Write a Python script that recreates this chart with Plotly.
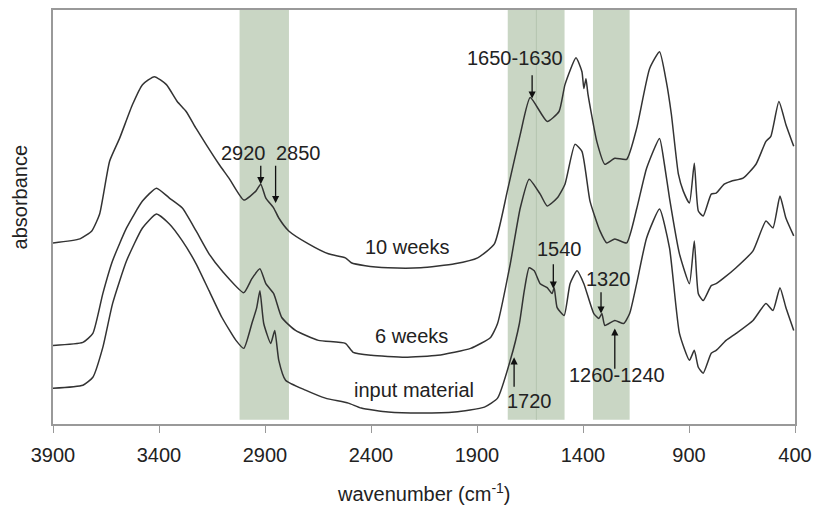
import plotly.graph_objects as go

# ---------------- data ----------------
# absorbance in arbitrary units (baseline offsets included as drawn)
wn_10w = [3900, 3773, 3717, 3680, 3633, 3586, 3525, 3478, 3422, 3365, 3314, 3272, 3225, 3178, 3117, 3070,
          3000, 2943, 2920, 2896, 2859, 2835, 2788, 2695, 2601, 2521, 2493, 2427, 2319, 2165, 2005, 1897,
          1818, 1757, 1696, 1649, 1569, 1513, 1485, 1433, 1405, 1396, 1386, 1377, 1335, 1297, 1250, 1194,
          1147, 1086, 1039, 1007, 983, 950, 927, 898, 875, 856, 833, 795, 772, 734, 701, 645, 584, 537,
          514, 476, 443, 406]
ab_10w = [182, 186, 194, 211, 264, 287, 321, 341, 349, 341, 324, 314, 297, 281, 261, 247,
          225, 234, 241, 227, 217, 207, 194, 181, 171, 167, 162, 159, 157, 157, 161, 167,
          181, 234, 291, 328, 304, 314, 341, 368, 354, 337, 347, 332, 284, 261, 267, 266,
          297, 357, 374, 344, 311, 251, 234, 222, 262, 214, 209, 231, 232, 241, 244, 247, 261, 284,
          289, 324, 301, 279]

wn_6w = [3900, 3759, 3712, 3665, 3619, 3553, 3478, 3412, 3351, 3290, 3225, 3164, 3103, 3000, 2962, 2924,
         2896, 2859, 2821, 2756, 2648, 2521, 2484, 2399, 2240, 2085, 1930, 1836, 1803, 1743, 1696, 1654,
         1602, 1569, 1522, 1485, 1438, 1405, 1367, 1320, 1288, 1250, 1194, 1147, 1100, 1039, 1016, 992,
         945, 898, 875, 856, 833, 795, 772, 734, 678, 598, 537, 504, 471, 443, 406]
ab_6w = [79, 82, 91, 131, 164, 197, 224, 237, 227, 217, 194, 171, 154, 132, 146, 156,
         141, 131, 107, 94, 84, 81, 72, 69, 67, 69, 76, 87, 101, 161, 217, 246,
         231, 219, 227, 241, 281, 274, 224, 194, 182, 186, 182, 216, 257, 287, 261, 227,
         171, 141, 184, 131, 124, 139, 141, 147, 157, 174, 204, 197, 229, 207, 189]

wn_in = [3900, 3759, 3712, 3665, 3619, 3553, 3478, 3412, 3351, 3290, 3225, 3164, 3103, 3037, 3000, 2962,
         2939, 2924, 2906, 2873, 2854, 2835, 2803, 2709, 2615, 2507, 2446, 2319, 2165, 2005, 1865, 1803,
         1743, 1700, 1677, 1654, 1630, 1602, 1569, 1546, 1536, 1522, 1489, 1461, 1428, 1396, 1349, 1325,
         1311, 1297, 1250, 1208, 1180, 1147, 1100, 1039, 992, 945, 898, 875, 856, 833, 795, 772, 725,
         678, 598, 537, 504, 471, 443, 406]
ab_in = [36, 39, 47, 77, 121, 164, 197, 211, 201, 184, 161, 134, 107, 84, 76, 101,
         117, 134, 101, 81, 94, 64, 44, 34, 26, 21, 16, 12, 11, 12, 17, 26,
         64, 101, 134, 157, 154, 141, 137, 131, 137, 117, 109, 141, 154, 141, 111, 106,
         111, 99, 104, 101, 111, 141, 187, 216, 177, 91, 64, 74, 57, 51, 71, 74, 84,
         91, 104, 121, 114, 137, 117, 94]

tick_vals = [3900, 3400, 2900, 2400, 1900, 1400, 900, 400]
bands = [(3020, 2787), (1755, 1487), (1353, 1180)]

series_labels = [("10 weeks", 2230, 178), ("6 weeks", 2207, 88), ("input material", 2198, 34)]
peak_labels = [("2920", 3000, 272), ("2850", 2742, 272), ("1650-1630", 1719, 368),
               ("1540", 1513, 176), ("1320", 1278, 146), ("1260-1240", 1241, 49), ("1720", 1653, 23)]
# arrows: (x position, tail y, head y)
arrows = [(2920, 261, 241), (2850, 261, 222), (1640, 352, 327), (1540, 162, 136),
          (1315, 134, 111), (1250, 54, 96), (1725, 36, 67)]

# ---------------- figure ----------------
FONT = "Liberation Sans, Arial, sans-serif"
FS = 20
TXT = "#222222"
LINE = "#333333"
fig = go.Figure()
for wn, ab, nm in [(wn_10w, ab_10w, "10 weeks"), (wn_6w, ab_6w, "6 weeks"), (wn_in, ab_in, "input material")]:
    fig.add_trace(go.Scatter(x=wn, y=ab, mode="lines", name=nm,
                             line=dict(color=LINE, width=1.5, shape="spline", smoothing=0.5),
                             showlegend=False, hoverinfo="skip"))

shapes = []
for a, b in bands:
    shapes.append(dict(type="rect", xref="x", yref="paper", x0=a, x1=b, y0=0.01, y1=1,
                       fillcolor="rgb(201,214,196)", line=dict(width=0), layer="below"))
shapes.append(dict(type="line", xref="x", yref="paper", x0=1620, x1=1620, y0=0.01, y1=1,
                   line=dict(color="rgb(180,196,176)", width=1), layer="below"))

annotations = []
for txt, x, y in series_labels + peak_labels:
    annotations.append(dict(x=x, y=y, xref="x", yref="y", text=txt, showarrow=False,
                            font=dict(family=FONT, size=FS, color=TXT),
                            xanchor="center", yanchor="middle"))
for x, yt, yh in arrows:
    annotations.append(dict(x=x, y=yh, ax=x, ay=yt, xref="x", yref="y", axref="x", ayref="y",
                            text="", showarrow=True, arrowhead=2, arrowsize=1.1,
                            arrowwidth=1.3, arrowcolor="#111111"))
# axis titles
annotations.append(dict(x=0.5, y=-0.165, xref="paper", yref="paper",
                        text="wavenumber (cm<sup>-1</sup>)", showarrow=False,
                        font=dict(family=FONT, size=FS, color=TXT),
                        xanchor="center", yanchor="middle"))
annotations.append(dict(x=-0.044, y=0.548, xref="paper", yref="paper",
                        text="absorbance", showarrow=False, textangle=-90,
                        font=dict(family=FONT, size=FS, color=TXT),
                        xanchor="center", yanchor="middle"))

fig.update_layout(
    width=820, height=507,
    margin=dict(l=53, r=21, t=8, b=83),
    paper_bgcolor="white", plot_bgcolor="white",
    font=dict(family=FONT, size=FS, color=TXT),
    shapes=shapes, annotations=annotations,
    xaxis=dict(range=[3900, 400], autorange=False, tickvals=tick_vals,
               ticks="outside", ticklen=7, tickcolor="#999999", tickwidth=1,
               ticklabelstandoff=5,
               showline=True, linecolor="#999999", linewidth=1.5, mirror=True,
               showgrid=False, zeroline=False,
               tickfont=dict(family=FONT, size=FS, color=TXT)),
    yaxis=dict(range=[0, 416], autorange=False, showticklabels=False, ticks="",
               showline=True, linecolor="#999999", linewidth=1.5, mirror=True,
               showgrid=False, zeroline=False),
)

fig.write_html("out.html")
